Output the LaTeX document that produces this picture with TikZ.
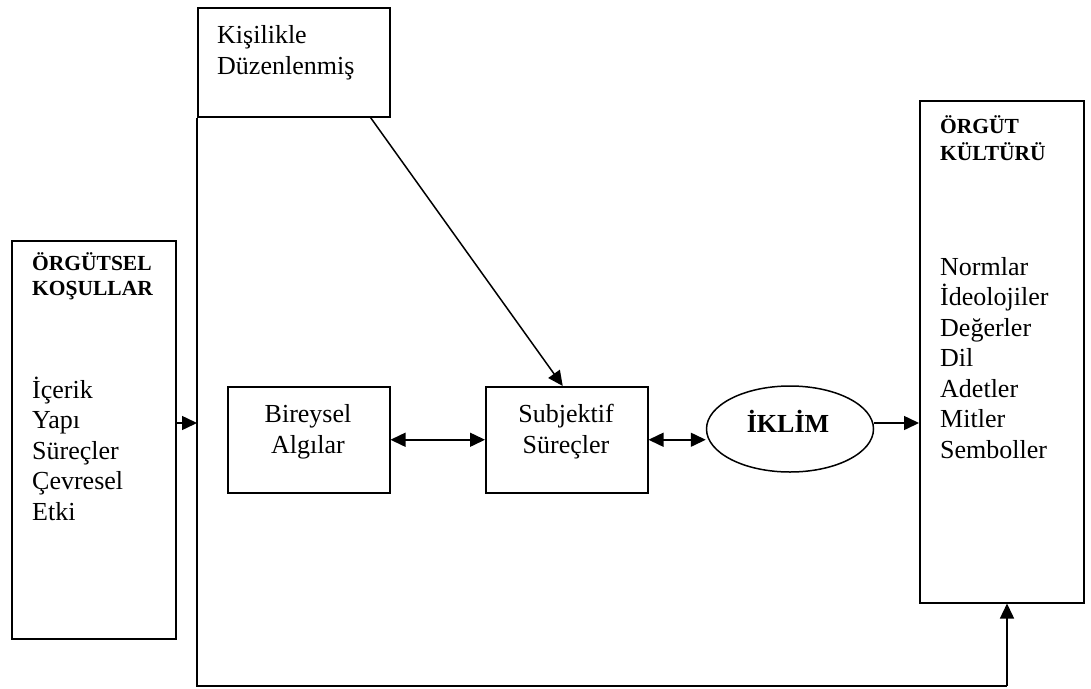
\documentclass[tikz,border=0pt]{standalone}
\usepackage{fontspec}
\setmainfont{Liberation Serif}
\usetikzlibrary{arrows.meta,shapes.geometric}

\tikzset{
  box/.style={draw, line width=1.5pt, rectangle, inner sep=0pt, anchor=north west},
  body/.style={inner sep=0pt, anchor=base west, font=\fontsize{26}{30}\selectfont},
  bodyc/.style={inner sep=0pt, anchor=base, font=\fontsize{26}{30}\selectfont},
  head/.style={inner sep=0pt, anchor=base west, font=\fontsize{21.5}{26}\selectfont\bfseries},
  link/.style={line width=1.5pt},
  tip/.style={-{Triangle[length=15pt,width=14pt]}},
  tips/.style={{Triangle[length=15pt,width=14pt]}-{Triangle[length=15pt,width=14pt]}},
}

\begin{document}
\begin{tikzpicture}[x=1pt, y=-1pt]
  \useasboundingbox (0,0) rectangle (1091,688);

  % boxes
  \node[box, minimum width=192pt, minimum height=109pt] (kis) at (197,7) {};
  \node[box, minimum width=164pt, minimum height=398pt] (kos) at (11,240) {};
  \node[box, minimum width=162pt, minimum height=106pt] (bir) at (227,386) {};
  \node[box, minimum width=162pt, minimum height=106pt] (sub) at (485,386) {};
  \node[box, minimum width=164pt, minimum height=502pt] (cul) at (919,100) {};
  \node[draw, line width=1.5pt, ellipse, inner sep=0pt,
        minimum width=167pt, minimum height=86pt] (ikl) at (790,429) {};

  % texts
  \node[body] (kis1) at (217,43) {Kişilikle};
  \node[body] (kis2) at (217,74) {Düzenlenmiş};

  \node[head] (kosh1) at (32,270) {ÖRGÜTSEL};
  \node[head] (kosh2) at (32,295) {KOŞULLAR};
  \foreach \w [count=\i] in {İçerik,Yapı,Süreçler,Çevresel,Etki}
    \node[body] (kos\i) at (32,{398+30.5*(\i-1)}) {\w};

  \node[bodyc] (bir1) at (308,422) {Bireysel};
  \node[bodyc] (bir2) at (308,453) {Algılar};
  \node[bodyc] (sub1) at (566,422) {Subjektif};
  \node[bodyc] (sub2) at (566,453) {Süreçler};

  \node[inner sep=0pt, anchor=base, font=\fontsize{26}{30}\selectfont\bfseries]
    (iklt) at (788,432) {İKLİM};

  \node[head] (culh1) at (940,133) {ÖRGÜT};
  \node[head] (culh2) at (940,160) {KÜLTÜRÜ};
  \foreach \w [count=\i] in {Normlar,İdeolojiler,Değerler,Dil,Adetler,Mitler,Semboller}
    \node[body] (cul\i) at (940,{275+30.5*(\i-1)}) {\w};

  % frame around the individual level, closing back into the culture box
  \coordinate (bot) at (1007,686);
  \coordinate (kisout) at ([xshift=-20pt]kis.south east);
  \coordinate (kosin) at (197,423);
  \draw[link] (kis.south west) -- (kis.south west |- bot) -- (bot);
  \draw[link, tip] (bot) -- (bot |- cul.south);

  % connectors
  \draw[link, tip] (kos.east |- kosin) -- (kosin);
  \draw[link, tip] (kisout) -- ([xshift=-4pt]sub.north);
  \draw[link, tips] (bir.east) -- (sub.west);
  \draw[link, tips] (sub.east) -- (sub.east -| ikl.west);
  \draw[link, tip] ([yshift=6pt]ikl.east) -- ([yshift=6pt]ikl.east -| cul.west);
\end{tikzpicture}
\end{document}
